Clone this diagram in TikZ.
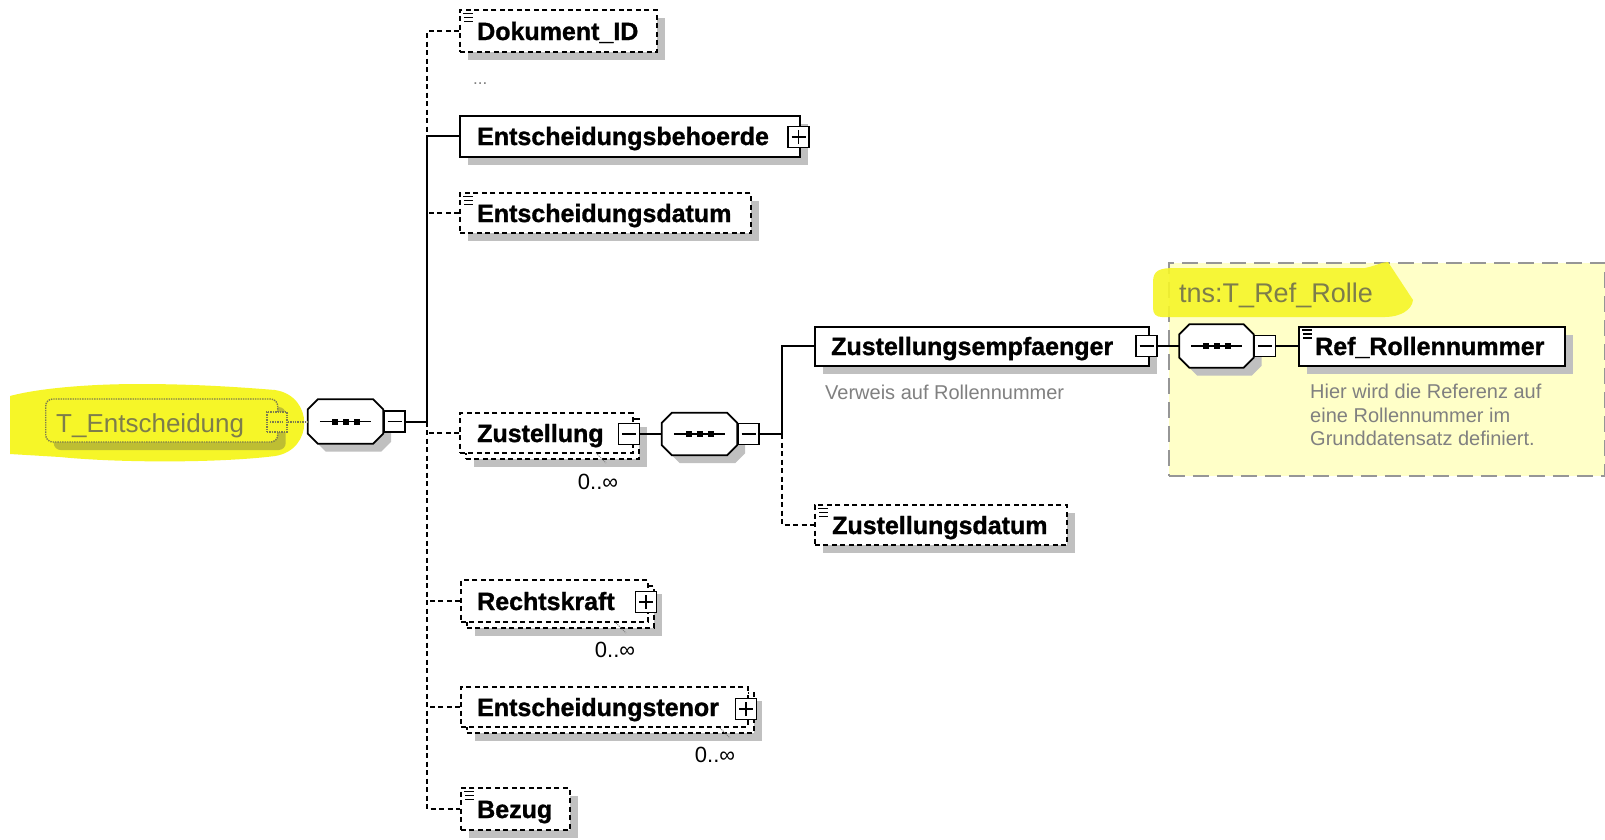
\documentclass[tikz,border=0pt]{standalone}
\usepackage{fontspec}
\setmainfont{Liberation Sans}[BoldFeatures={FakeBold=1.2}]
\usetikzlibrary{shadows,calc}
\definecolor{shadowc}{RGB}{192,192,192}
\definecolor{hl}{RGB}{246,246,40}
\definecolor{hlshadow}{RGB}{190,190,50}
\definecolor{fadetext}{RGB}{125,125,75}
\definecolor{desc}{RGB}{128,128,128}
\definecolor{boxyellow}{RGB}{255,255,200}
\definecolor{boxborder}{RGB}{150,150,150}
\newcommand\elemfont{\fontsize{25}{30}\selectfont\bfseries}
\newcommand\descfont{\fontsize{20}{23.5}\selectfont}
\tikzset{
 conn/.style={line width=2pt},
 dconn/.style={line width=1.6pt, dash pattern=on 5pt off 3.5pt},
 shad/.style={drop shadow={shadow xshift=8pt, shadow yshift=-8pt, fill=shadowc, opacity=1}},
 elembox/.style={draw, fill=white, line width=2pt, minimum height=41pt, inner sep=0pt, anchor=west},
 optbox/.style={elembox, line width=1.6pt, dash pattern=on 5pt off 3.5pt},
 ename/.style={font=\elemfont, anchor=base west, inner sep=0pt},
 pmbox/.style={draw, fill=white, line width=1.6pt, minimum size=21pt, inner sep=0pt},
 minusbox/.style={pmbox, path picture={\draw[line width=1.6pt] ([xshift=-7pt]path picture bounding box.center) -- ([xshift=7pt]path picture bounding box.center);}},
 plusbox/.style={pmbox, path picture={\draw[line width=1.6pt] ([xshift=-7pt]path picture bounding box.center) -- ([xshift=7pt]path picture bounding box.center) ([yshift=-7pt]path picture bounding box.center) -- ([yshift=7pt]path picture bounding box.center);}},
 seqbox/.style={minimum width=75pt, minimum height=44pt, inner sep=0pt},
 card/.style={font=\fontsize{22}{26}\selectfont, inner sep=0pt, anchor=base},
 tick/.style={desc, line width=1pt, densely dotted},
 note/.style={font=\descfont, text=desc, inner sep=0pt},
}
\newcommand\seqdraw[1]{%
 \fill[shadowc] ($(#1.north west)+(18,8)$) -- ($(#1.north east)+(-2,8)$) -- ($(#1.north east)+(8,18)$) -- ($(#1.south east)+(8,-2)$) -- ($(#1.south east)+(-2,8)$) -- ($(#1.south west)+(18,8)$) -- ($(#1.south west)+(8,-2)$) -- ($(#1.north west)+(8,18)$) -- cycle;
 \draw[line width=1.8pt, fill=white] ($(#1.north west)+(10,0)$) -- ($(#1.north east)+(-10,0)$) -- ($(#1.north east)+(0,10)$) -- ($(#1.south east)+(0,-10)$) -- ($(#1.south east)+(-10,0)$) -- ($(#1.south west)+(10,0)$) -- ($(#1.south west)+(0,-10)$) -- ($(#1.north west)+(0,10)$) -- cycle;
 \draw[line width=1.8pt] ($(#1.west)+(12,0)$) -- ($(#1.east)+(-12,0)$);
 \foreach \dx in {-11,0,11} {\fill ($(#1.center)+({\dx-3},-3)$) rectangle +(6,6);}
}
\newcommand\elicon[1]{%
 \draw[line width=1.3pt] ($(#1.north west)+(4,4.5)$) -- +(10,0) ($(#1.north west)+(5,8.5)$) -- +(9,0) ($(#1.north west)+(5,12.5)$) -- +(9,0);
}
\begin{document}
\begin{tikzpicture}[x=1pt,y=-1pt]
\useasboundingbox (0,0) rectangle (1605,839);
\fill[white] (0,0) rectangle (1605,839);

% ---------- T_Entscheidung (highlighted) ----------
\fill[hl] (10,396) .. controls (40,388) and (90,384) .. (140,384) .. controls (200,384) and (250,388) .. (275,390) .. controls (314,396) and (314,450) .. (275,456) .. controls (220,463) and (120,463) .. (60,457) -- (10,454) -- cycle;
\node[draw=fadetext, densely dotted, line width=1.4pt, fill=hl, rounded corners=7pt, minimum width=232pt, minimum height=43pt, inner sep=0pt, anchor=west,
      drop shadow={shadow xshift=8pt, shadow yshift=-8pt, fill=hlshadow, opacity=1}] (te) at (45,420.5) {};
\node[font=\fontsize{26}{30}\selectfont, text=fadetext, anchor=base west, inner sep=0pt] (teT) at (56,432) {T\_Entscheidung};
\node[draw=fadetext, densely dotted, line width=1.4pt, fill=hl, minimum size=20pt, inner sep=0pt,
      path picture={\draw[fadetext, densely dotted, line width=1.4pt] ([xshift=-7pt]path picture bounding box.center) -- ([xshift=7pt]path picture bounding box.center);}] (teM) at (277,422) {};

% ---------- main sequence ----------
\node[seqbox] (s1) at (345.5,421.5) {};
\seqdraw{s1}
\node[minusbox, anchor=west] (s1M) at (s1.east) {};
\draw[fadetext, densely dotted, line width=1.4pt] (teM.east) -- (teM.east -| s1.west);
\coordinate (trunk) at (427,421.5);

% ---------- children ----------
\node[optbox, shad, minimum width=197pt, minimum height=42pt] (dok) at (459,31) {};
\node[ename] (dokT) at (477,40) {Dokument\_ID};
\elicon{dok}
\node[font=\fontsize{17}{20}\selectfont, text=desc, anchor=base west, inner sep=0pt] (dots) at (473,84) {...};

\node[elembox, shad, minimum width=340pt] (beh) at (459,136) {};
\node[ename] (behT) at (477,145) {Entscheidungsbehoerde};
\node[plusbox] (behP) at (798.5,137) {};

\node[optbox, shad, minimum width=291pt, minimum height=40pt] (dat) at (459,213) {};
\node[ename] (datT) at (477,222) {Entscheidungsdatum};
\elicon{dat}

\node[optbox, shad, minimum width=173pt, minimum height=40pt] (zusB) at (465,439) {};
\node[optbox, minimum width=173pt, minimum height=40pt] (zus) at (459,433) {};
\node[ename] (zusT) at (477,442) {Zustellung};
\node[minusbox] (zusM) at (629,434) {};
\node[card] (zusC) at (598,489) {0..∞};
\draw[tick] (596,453) -- (606,463);

\node[optbox, shad, minimum width=187pt, minimum height=42pt] (rkB) at (466,607) {};
\node[optbox, minimum width=187pt, minimum height=42pt] (rk) at (460,601) {};
\node[ename] (rkT) at (477,610) {Rechtskraft};
\node[plusbox] (rkP) at (646,602) {};
\node[card] (rkC) at (615,657) {0..∞};
\draw[tick] (616,623) -- (626,633);

\node[optbox, shad, minimum width=287pt, minimum height=40pt] (etB) at (466,713) {};
\node[optbox, minimum width=287pt, minimum height=40pt] (et) at (460,707) {};
\node[ename] (etT) at (477,716) {Entscheidungstenor};
\node[plusbox] (etP) at (746,709) {};
\node[card] (etC) at (715,762) {0..∞};
\draw[tick] (720,728) -- (730,738);

\node[optbox, shad, minimum width=109pt, minimum height=42pt] (bez) at (460,809) {};
\node[ename] (bezT) at (477,818) {Bezug};
\elicon{bez}

% ---------- trunk connectors ----------
\draw[conn] (s1M.east) -- (trunk);
\draw[conn] (beh.west) -| (trunk);
\draw[dconn] (dok.west) -| (beh.west -| trunk);
\draw[dconn] (dat.west) -- (dat.west -| trunk);
\draw[dconn] (zus.west) -- (zus.west -| trunk);
\draw[dconn] (rk.west) -- (rk.west -| trunk);
\draw[dconn] (et.west) -- (et.west -| trunk);
\draw[dconn] (trunk) |- (bez.west);

% ---------- Zustellung sequence ----------
\node[seqbox, minimum height=42pt] (s2) at (699.5,434) {};
\seqdraw{s2}
\node[minusbox, anchor=west] (s2M) at (s2.east) {};
\draw[conn] (zusM.east) -- (s2.west);
\coordinate (trunk2) at (782,434);
\draw[conn] (s2M.east) -- (trunk2);

\node[elembox, shad, minimum width=334pt, minimum height=39pt] (zemp) at (814,346) {};
\node[ename] (zempT) at (831,355) {Zustellungsempfaenger};
\node[minusbox] (zempM) at (1146.5,346) {};
\node[note, anchor=base west] (zempN) at (825,399) {Verweis auf Rollennummer};

\node[optbox, shad, minimum width=252pt, minimum height=40pt] (zdat) at (814,525) {};
\node[ename] (zdatT) at (832,534) {Zustellungsdatum};
\elicon{zdat}

\draw[conn] (zemp.west) -| (trunk2);
\draw[dconn] (trunk2) |- (zdat.west);

% ---------- tns:T_Ref_Rolle ----------
\node[draw=boxborder, fill=boxyellow, dash pattern=on 16pt off 8pt, line width=1.5pt, minimum width=436pt, minimum height=213pt, inner sep=0pt, anchor=north west] (refbox) at (1168,262) {};
\fill[hl, opacity=.9] (1153,282) .. controls (1153,270) and (1160,268) .. (1175,268) -- (1365,268) .. controls (1375,266) and (1382,262) .. (1388,262) -- (1413,300) .. controls (1412,310) and (1400,317) .. (1385,317) -- (1162,317) .. controls (1156,317) and (1153,314) .. (1153,308) -- cycle;
\node[font=\fontsize{27}{30}\selectfont, text=fadetext, anchor=base west, inner sep=0pt] (refT) at (1179,302) {tns:T\_Ref\_Rolle};

\node[seqbox, minimum width=74pt, minimum height=43pt] (s3) at (1216.5,346) {};
\seqdraw{s3}
\node[minusbox, anchor=west] (s3M) at (s3.east) {};
\draw[conn] (zempM.east) -- (s3.west);

\node[elembox, shad, minimum width=266pt, minimum height=39pt] (ref) at (1298,346) {};
\node[ename] (refN) at (1315,355) {Ref\_Rollennummer};
\elicon{ref}
\draw[conn] (s3M.east) -- (ref.west);
\node[note, align=left, anchor=north west] (refD) at (1310,384) {Hier wird die Referenz auf\\eine Rollennummer im\\Grunddatensatz definiert.};
\end{tikzpicture}
\end{document}
